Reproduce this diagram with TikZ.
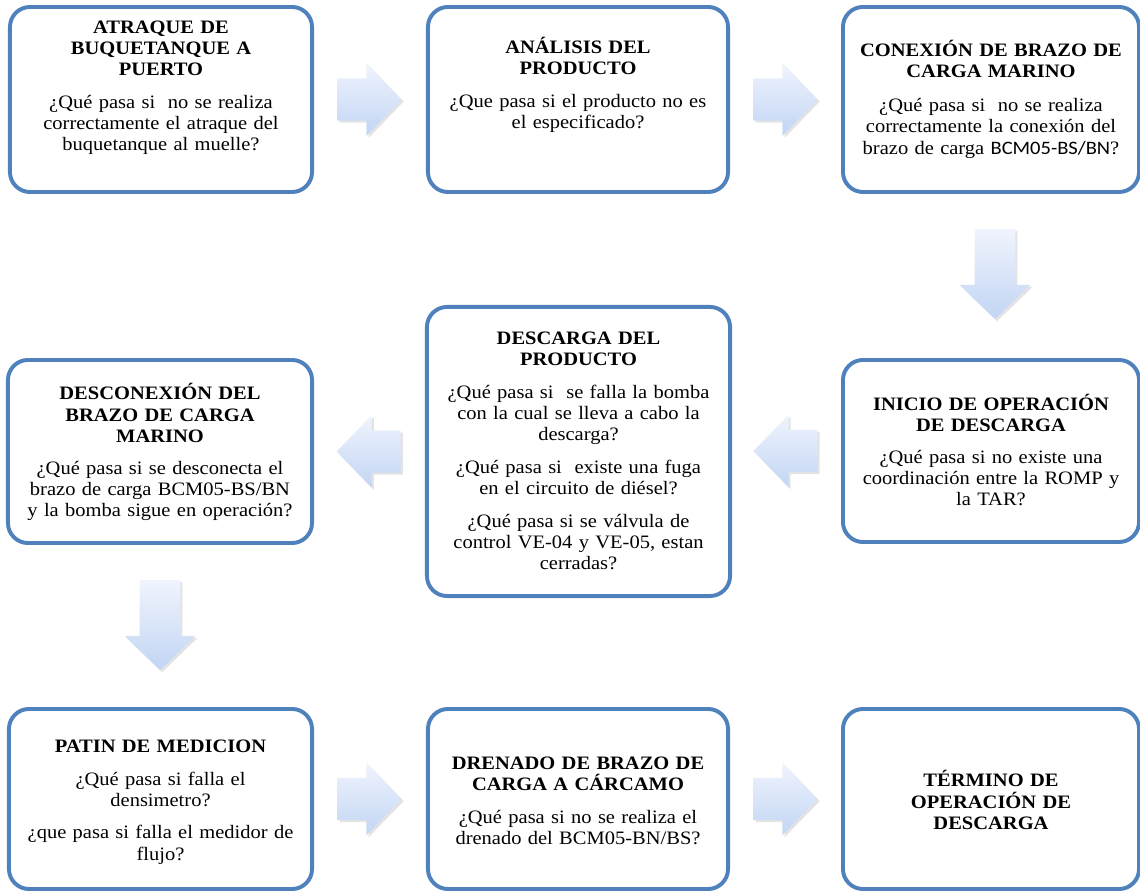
\documentclass[tikz,border=0pt]{standalone}
\usepackage{fontspec}
\setmainfont{Liberation Serif}[FakeStretch=1.08]
\newfontfamily\calibri{Carlito}[FakeStretch=1.08]
\usetikzlibrary{shapes.arrows,shadows,calc}
\definecolor{bordeazul}{HTML}{4F81BD}
\definecolor{flechaclara}{HTML}{F0F4FD}
\definecolor{flechaazul}{HTML}{C2D5F4}
\tikzset{
  etapa/.style={draw=bordeazul, line width=2.8pt, rounded corners=0.5cm, fill=white, inner sep=0pt},
  texto/.style={align=center, text width=7.3cm, inner sep=0pt, font=\fontsize{13.5pt}{15pt}\selectfont},
  flecha/.style={single arrow, single arrow head extend=0.38cm, single arrow tip angle=92,
    anchor=tail, top color=flechaclara, bottom color=flechaazul,
    drop shadow={opacity=0.22, shadow xshift=1.5pt, shadow yshift=-1.5pt}},
  flechah/.style={flecha, inner xsep=0.3cm, inner ysep=0.52cm, minimum height=1.6cm},
  flechav/.style={flecha, inner xsep=0.5cm, inner ysep=0.3cm, minimum height=2.25cm, shape border rotate=270}
}
\begin{document}
\begin{tikzpicture}[x=0.025cm, y=-0.025cm]
\useasboundingbox (0,0) rectangle (1140,891);

% Fila superior
\node[etapa, minimum width=7.55cm, minimum height=4.625cm] (atraque) at (161,99.5) {};
\node[texto] (t-atraque) at (161,88) {{\bfseries ATRAQUE DE\\BUQUETANQUE A\\PUERTO}\\[0.29cm]
  ¿Qué pasa si~ no se realiza\\correctamente el atraque del\\buquetanque al muelle?};
\node[etapa, minimum width=7.5cm, minimum height=4.625cm] (analisis) at (578,99.5) {};
\node[texto] (t-analisis) at (578,85) {{\bfseries ANÁLISIS DEL\\PRODUCTO}\\[0.29cm]
  ¿Que pasa si el producto no es\\el especificado?};
\node[etapa, minimum width=7.4cm, minimum height=4.625cm] (conexion) at (991,99.5) {};
\node[texto] (t-conexion) at (991,99) {{\bfseries CONEXIÓN DE BRAZO DE\\CARGA MARINO}\\[0.34cm]
  ¿Qué pasa si~ no se realiza\\correctamente la conexión del\\brazo de carga {\calibri BCM05-BS/BN}?};

% Fila central
\node[etapa, minimum width=7.6cm, minimum height=4.575cm] (desconexion) at (160,451.5) {};
\node[texto] (t-desconexion) at (160,452) {{\bfseries DESCONEXIÓN DEL\\BRAZO DE CARGA\\MARINO}\\[0.27cm]
  ¿Qué pasa si se desconecta el\\brazo de carga BCM05-BS/BN\\y la bomba sigue en operación?};
\node[etapa, minimum width=7.575cm, minimum height=7.225cm] (descarga) at (578.5,451.5) {};
\node[texto] (t-descarga) at (578.5,451) {{\bfseries DESCARGA DEL\\PRODUCTO}\\[0.29cm]
  ¿Qué pasa si~ se falla la bomba\\con la cual se lleva a cabo la\\descarga?\\[0.29cm]
  ¿Qué pasa si~ existe una fuga\\en el circuito de diésel?\\[0.29cm]
  ¿Qué pasa si se válvula de\\control VE-04 y VE-05, estan\\cerradas?};
\node[etapa, minimum width=7.4cm, minimum height=4.55cm] (inicio) at (991,451) {};
\node[texto] (t-inicio) at (991,450) {{\bfseries INICIO DE OPERACIÓN\\DE DESCARGA}\\[0.29cm]
  ¿Qué pasa si no existe una\\coordinación entre la ROMP y\\la TAR?};

% Fila inferior
\node[etapa, minimum width=7.575cm, minimum height=4.5cm] (patin) at (160.5,799) {};
\node[texto] (t-patin) at (160.5,802) {{\bfseries PATIN DE MEDICION}\\[0.29cm]
  ¿Qué pasa si falla el\\densimetro?\\[0.29cm]
  ¿que pasa si falla el medidor de\\flujo?};
\node[etapa, minimum width=7.5cm, minimum height=4.5cm] (drenado) at (578,799) {};
\node[texto] (t-drenado) at (578,801) {{\bfseries DRENADO DE BRAZO DE\\CARGA A CÁRCAMO}\\[0.29cm]
  ¿Qué pasa si no se realiza el\\drenado del BCM05-BN/BS?};
\node[etapa, minimum width=7.4cm, minimum height=4.5cm] (termino) at (991,799) {};
\node[texto] (t-termino) at (991,800) {\bfseries TÉRMINO DE\\OPERACIÓN DE\\DESCARGA};

% Flechas entre etapas
\node[flechah] (f1) at ([xshift=0.58cm]atraque.east) {};
\node[flechah] (f2) at ([xshift=0.58cm]analisis.east) {};
\node[flechav] (f3) at ([xshift=0.1cm, yshift=-0.87cm]conexion.south) {};
\node[flechah, shape border rotate=180] (f4) at ([xshift=-0.58cm]inicio.west) {};
\node[flechah, shape border rotate=180] (f5) at ([xshift=-0.6cm]descarga.west) {};
\node[flechav] (f6) at ([yshift=-0.87cm]desconexion.south) {};
\node[flechah] (f7) at ([xshift=0.58cm]patin.east) {};
\node[flechah] (f8) at ([xshift=0.58cm]drenado.east) {};
\end{tikzpicture}
\end{document}
